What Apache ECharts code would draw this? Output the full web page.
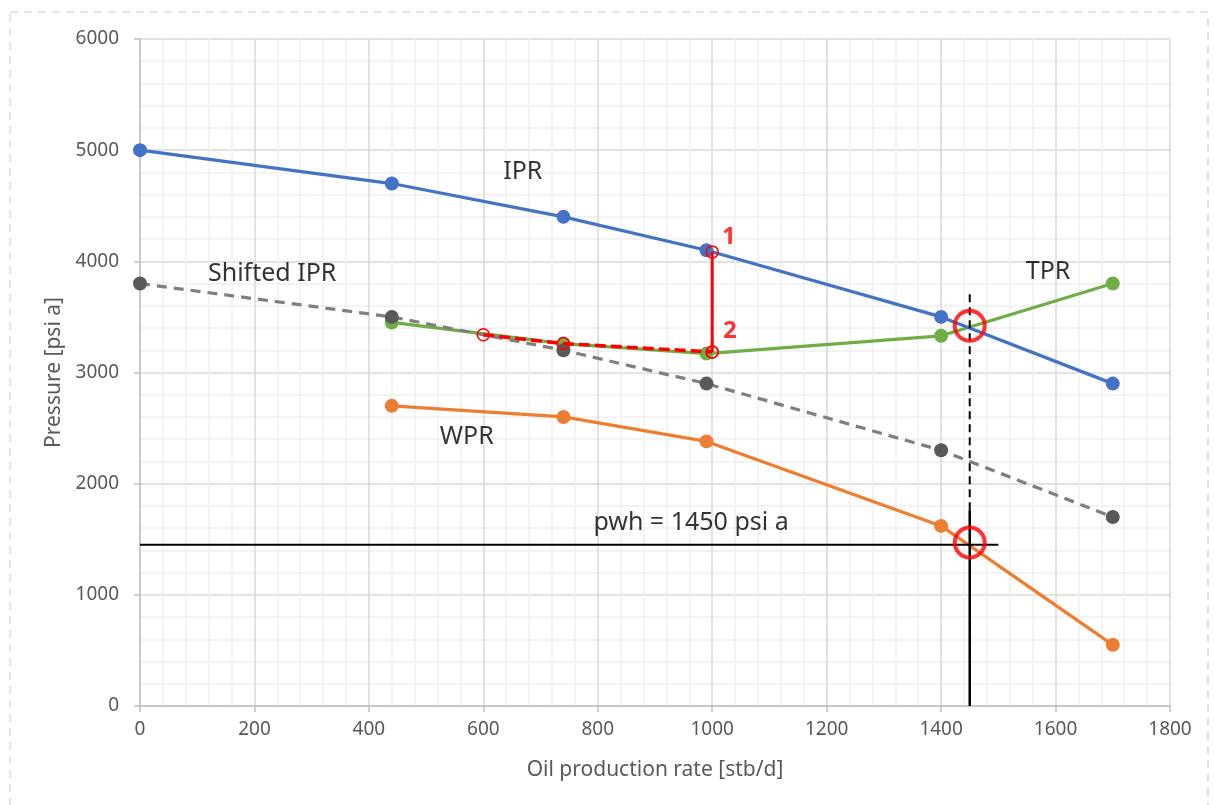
<!DOCTYPE html>
<html>
<head>
<meta charset="utf-8">
<script src="https://cdn.jsdelivr.net/npm/echarts@6/dist/echarts.min.js"></script>
<style>html,body{margin:0;padding:0;background:#fff;}#c{width:1214px;height:805px;}</style>
</head>
<body>
<div id="c"></div>
<script>
// ---- data ----
const xTicks = [0, 200, 400, 600, 800, 1000, 1200, 1400, 1600, 1800];
const yTicks = [0, 1000, 2000, 3000, 4000, 5000, 6000];
const rateIPR = [0, 440, 740, 990, 1400, 1700];
const pIPR = [5000, 4700, 4400, 4100, 3500, 2900];
const rateShifted = [0, 440, 740, 990, 1400, 1700];
const pShifted = [3800, 3500, 3200, 2900, 2300, 1700];
const rateTPR = [440, 740, 990, 1400, 1700];
const pTPR = [3450, 3260, 3170, 3330, 3800];
const rateWPR = [440, 740, 990, 1400, 1700];
const pWPR = [2700, 2600, 2380, 1620, 550];
const rateRedDash = [600, 740, 1000];
const pRedDash = [3340, 3260, 3185];
const rateRedVert = [1000, 1000];
const pRedVert = [4085, 3185];
const rateCircles = [1450, 1450];
const pCircles = [3420, 1470];
const pwh = 1450;
const pwhLineEnd = 1500;
const opRate = 1450;
const vertSolidTop = 1760;
const vertDashTop = 3720;
const annotNames = ['IPR', 'Shifted IPR', 'TPR', 'WPR', 'pwh = 1450 psi a'];
const annotX = [669, 231, 1587, 571, 963];
const annotY = [4802, 3885, 3903, 2419, 1646];
const pointNames = ['1', '2'];
const pointX = [1029, 1031];
const pointY = [4218, 3372];

const zip = (a, b) => a.map((v, i) => [v, b[i]]);
const FONT = 'Noto Sans';

const chart = echarts.init(document.getElementById('c'), null, {renderer: 'canvas'});

function lineSeries(name, xs, ys, color, dashed, markerColor) {
  return {
    name: name, type: 'line', data: zip(xs, ys),
    symbol: 'circle', symbolSize: 14,
    lineStyle: {color: color, width: 3.25, type: dashed ? [10, 7] : 'solid'},
    itemStyle: {color: markerColor || color},
    emphasis: {disabled: true}, animation: false, z: 3
  };
}

const axisCommon = {
  axisLine: {show: true, lineStyle: {color: '#bfbfbf', width: 1.5}},
  axisTick: {show: true, length: 6, lineStyle: {color: '#bfbfbf', width: 1.5}},
  splitLine: {show: true, lineStyle: {color: '#d9d9d9', width: 1.5}},
  minorTick: {show: false, splitNumber: 5},
  minorSplitLine: {show: true, lineStyle: {color: '#f0f0f0', width: 1.5}}
};

const option = {
  animation: false,
  grid: {left: 140, right: 44, top: 39, bottom: 99, containLabel: false},
  graphic: [{
    type: 'rect', shape: {x: 10, y: 12, width: 1198, height: 830},
    style: {fill: 'none', stroke: '#d9d9d9', lineWidth: 1.5, lineDash: [8, 6]}, z: -10, silent: true
  }],
  xAxis: Object.assign({
    type: 'value', min: xTicks[0], max: xTicks[xTicks.length - 1], interval: 200,
    name: 'Oil production rate [stb/d]', nameLocation: 'middle', nameGap: 54,
    nameTextStyle: {fontFamily: FONT, fontSize: 21, color: '#595959'},
    axisLabel: {fontFamily: FONT, fontSize: 19, color: '#595959', margin: 14, formatter: v => String(v)}
  }, axisCommon),
  yAxis: Object.assign({
    type: 'value', min: yTicks[0], max: yTicks[yTicks.length - 1], interval: 1000,
    name: 'Pressure [psi a]', nameLocation: 'middle', nameGap: 71,
    nameTextStyle: {fontFamily: FONT, fontSize: 21, color: '#595959'},
    axisLabel: {fontFamily: FONT, fontSize: 19, color: '#595959', margin: 21, formatter: v => String(v)}
  }, axisCommon),
  series: [
    lineSeries('WPR', rateWPR, pWPR, '#ED7D31', false),
    lineSeries('TPR', rateTPR, pTPR, '#70AD47', false),
    lineSeries('Shifted IPR', rateShifted, pShifted, '#7f7f7f', true, '#595959'),
    lineSeries('IPR', rateIPR, pIPR, '#4472C4', false),
    {
      type: 'line', data: [[0, pwh], [pwhLineEnd, pwh]], symbol: 'none',
      lineStyle: {color: '#000', width: 2}, z: 4, animation: false
    },
    {
      type: 'line', data: [[opRate, 0], [opRate, vertSolidTop]], symbol: 'none',
      lineStyle: {color: '#000', width: 2.5}, z: 4, animation: false
    },
    {
      type: 'line', data: [[opRate, vertSolidTop], [opRate, vertDashTop]], symbol: 'none',
      lineStyle: {color: '#000', width: 2, type: [8, 5]}, z: 4, animation: false
    },
    {
      type: 'line', data: zip(rateRedVert, pRedVert), symbol: 'circle', symbolSize: 12,
      lineStyle: {color: '#ff0000', width: 3}, itemStyle: {color: 'rgba(255,255,255,0)', borderColor: '#ff0000', borderWidth: 1.5},
      z: 6, animation: false
    },
    {
      type: 'line', data: zip(rateRedDash, pRedDash), symbol: 'circle', symbolSize: 12,
      lineStyle: {color: '#ff0000', width: 3.5, type: [11, 5]}, itemStyle: {color: 'rgba(255,255,255,0)', borderColor: '#ff0000', borderWidth: 1.5},
      z: 6, animation: false
    },
    {
      type: 'scatter', data: zip(rateCircles, pCircles), symbol: 'circle', symbolSize: 30,
      itemStyle: {color: 'rgba(255,255,255,0)', borderColor: '#ff0000', borderWidth: 4}, z: 7, animation: false
    },
    {
      type: 'scatter', data: annotNames.map((n, i) => ({name: n, value: [annotX[i], annotY[i]]})),
      symbolSize: 0, z: 8, animation: false,
      label: {show: true, position: 'inside', formatter: p => p.name, fontFamily: FONT, fontSize: 25, color: '#000'}
    },
    {
      type: 'scatter', data: pointNames.map((n, i) => ({name: n, value: [pointX[i], pointY[i]]})),
      symbolSize: 0, z: 8, animation: false,
      label: {show: true, position: 'inside', formatter: p => p.name, fontFamily: FONT, fontSize: 24, fontWeight: 'bold', color: '#ff0000'}
    }
  ]
};
chart.setOption(option);
</script>
</body>
</html>
